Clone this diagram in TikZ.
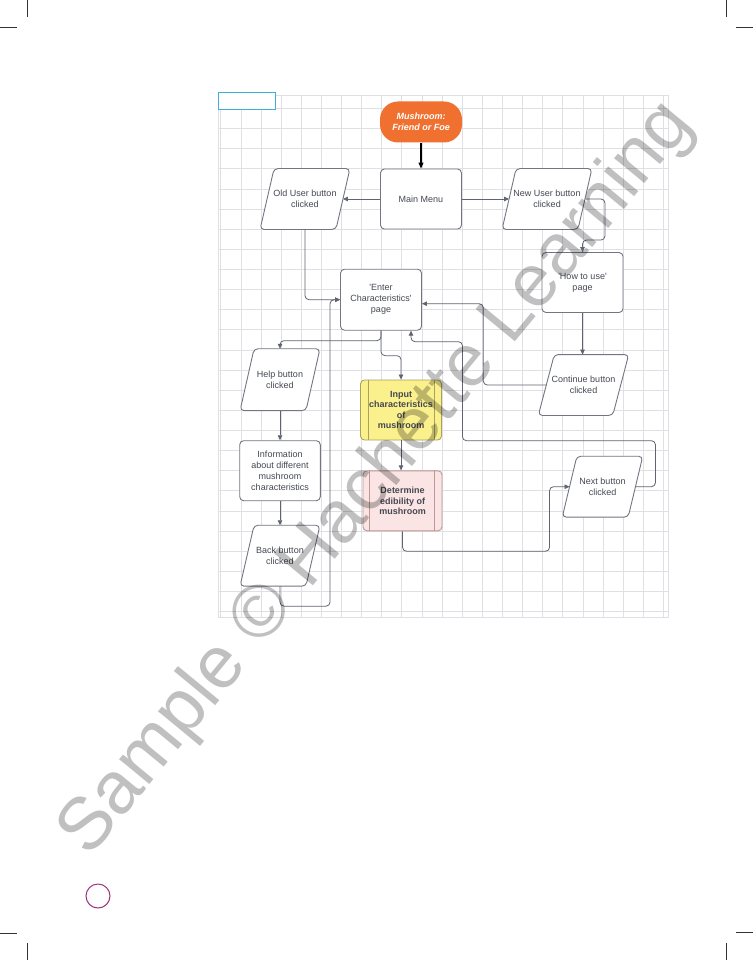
\documentclass[tikz,border=0pt]{standalone}
\usepackage{fontspec}
\setmainfont{Liberation Sans}
\usetikzlibrary{arrows.meta}

\definecolor{linegray}{RGB}{96,100,112}
\definecolor{boxgray}{RGB}{115,118,128}
\definecolor{textgray}{RGB}{68,72,82}
\definecolor{gridgray}{RGB}{224,224,228}
\definecolor{startorange}{RGB}{240,112,48}
\definecolor{inputyellow}{RGB}{250,240,140}
\definecolor{inputedge}{RGB}{170,160,95}
\definecolor{ediblepink}{RGB}{251,228,228}
\definecolor{edibleedge}{RGB}{190,150,150}
\definecolor{framecyan}{RGB}{60,176,216}
\definecolor{pagemagenta}{RGB}{160,50,125}
\definecolor{markgray}{RGB}{192,192,192}

\pgfdeclarelayer{bglayer}
\pgfsetlayers{bglayer,main}

\begin{document}
\begin{tikzpicture}[x=1pt, y=-1pt,
	box/.style={draw=boxgray, line width=0.9pt, rounded corners=4pt, fill=white,
		text=textgray, align=center, font=\fontsize{9}{11}\selectfont,
		minimum width=81pt, minimum height=60pt, inner sep=2pt},
	io/.style={box, draw=none, fill=none},
	iobox/.style={draw=boxgray, line width=0.9pt, rounded corners=4pt, fill=white},
	procbox/.style={box, font=\fontsize{9}{10.5}\selectfont\bfseries},
	flow/.style={draw=linegray, line width=0.8pt, rounded corners=4pt,
		-{Triangle[length=5pt,width=4.5pt]}}]
	\useasboundingbox (0,0) rectangle (753,960);

	% page and grid
	\begin{pgfonlayer}{bglayer}
		\fill[white] (0,0) rectangle (753,960);
		\draw[gridgray] (218,95) rectangle (668,617);
		\foreach \i in {0,...,22}
			\draw[gridgray] ({220.6+20.12*\i},95) -- ({220.6+20.12*\i},617);
		\foreach \j in {0,...,25}
			\draw[gridgray] (218,{108.3+20.12*\j}) -- (668,{108.3+20.12*\j});
	\end{pgfonlayer}
	\draw[framecyan, line width=1pt, fill=white] (218,93) rectangle (275,110);

	% crop marks
	\draw[line width=0.6pt, black!80] (27,0) -- (27,17);
	\draw[line width=0.6pt, black!80] (0,27) -- (17,27);
	\draw[line width=0.6pt, black!80] (726,0) -- (726,17);
	\draw[line width=0.6pt, black!80] (736,27) -- (753,27);
	\draw[line width=0.6pt, black!80] (0,933) -- (17,933);
	\draw[line width=0.6pt, black!80] (27,943) -- (27,960);
	\draw[line width=0.6pt, black!80] (736,932) -- (753,932);
	\draw[line width=0.6pt, black!80] (726,943) -- (726,960);
	\draw[pagemagenta, line width=1pt] (98,896) circle[radius=12pt];

	% nodes
	\node[box, draw=none, fill=startorange, text=white, rounded corners=18pt,
		minimum width=82pt, minimum height=41pt,
		font=\fontsize{9}{10.7}\selectfont\bfseries\itshape] (start) at (421,122) {Mushroom:\\Friend or Foe};
	\node[box] (mainmenu) at (421,199) {Main Menu};
	\node[io, minimum width=75pt] (olduser) at (305,199) {Old User button\\clicked};
	\node[io, minimum width=75pt] (newuser) at (547,199) {New User button\\clicked};
	\node[box] (howto) at (582.5,282.5) {\textquotesingle How to use\textquotesingle\\page};
	\node[box, minimum height=61pt] (enterchar) at (381,299.7) {\textquotesingle Enter\\Characteristics\textquotesingle\\page};
	\node[io, minimum width=73.5pt] (contbtn) at (583.5,385) {Continue button\\clicked};
	\node[io, minimum width=65pt, minimum height=61pt] (helpbtn) at (280,379.7) {Help button\\clicked};
	\node[box, minimum width=80.6pt] (info) at (280,470.7) {Information\\about different\\mushroom\\characteristics};
	\node[io, minimum width=65pt] (backbtn) at (280,555.7) {Back button\\clicked};
	\node[procbox, fill=inputyellow, draw=inputedge] (inputchar) at (401,410) {Input\\characteristics\\of\\mushroom};
	\node[procbox, fill=ediblepink, draw=edibleedge, minimum width=79pt] (edible) at (402.5,500.8) {Determine\\edibility of\\mushroom};
	\node[io, minimum width=65pt] (nextbtn) at (602.5,486.7) {Next button\\clicked};

	% parallelograms behind the io texts
	\begin{pgfonlayer}{bglayer}
		\foreach \n/\s in {olduser/7,newuser/7,contbtn/8,helpbtn/7,backbtn/7,nextbtn/7.3}
			\draw[iobox] ([xshift=\s pt]\n.north west) -- ([xshift=\s pt]\n.north east)
				-- ([xshift=-\s pt]\n.south east) -- ([xshift=-\s pt]\n.south west) -- cycle;
	\end{pgfonlayer}

	% side bars of the process boxes
	\draw[inputedge, line width=0.9pt] ([xshift=8pt]inputchar.north west) -- ([xshift=8pt]inputchar.south west);
	\draw[inputedge, line width=0.9pt] ([xshift=-8pt]inputchar.north east) -- ([xshift=-8pt]inputchar.south east);
	\draw[edibleedge, line width=0.9pt] ([xshift=7pt]edible.north west) -- ([xshift=7pt]edible.south west);
	\draw[edibleedge, line width=0.9pt] ([xshift=-8pt]edible.north east) -- ([xshift=-8pt]edible.south east);

	% connectors
	\draw[line width=1.1pt, -{Triangle[length=6pt,width=5pt]}] (start) -- (mainmenu);
	\draw[flow] (mainmenu) -- (olduser);
	\draw[flow] (mainmenu) -- (newuser);
	\draw[flow] (newuser.east) -- ++(20,0) |- ([yshift=12pt]howto.north) -- (howto.north);
	\draw[flow] (howto.south) -- (howto.south |- contbtn.north);
	\draw[flow] (contbtn.west) -- ++(-63,0) |- ([yshift=-4pt]enterchar.east);
	\draw[flow] (olduser.south) |- (enterchar.west);
	\draw[flow] (backbtn.south) -- ++(0,20) -| ([xshift=-10pt]enterchar.west) -- (enterchar.west);
	\draw[flow] (enterchar.south) -- ++(0,10) -| (helpbtn.north);
	\draw[flow] (enterchar.south) -- ++(0,25) -| (inputchar.north);
	\draw[flow] (helpbtn) -- (info);
	\draw[flow] (info) -- (backbtn);
	\draw[flow] (inputchar.south) -- (inputchar.south |- edible.north);
	\draw[flow] (edible.south) -- ++(0,20) -| ([xshift=-20pt]nextbtn.west) -- (nextbtn.west);
	\draw[flow] (nextbtn.east) -- ++(20,0) -- ++(0,-46) -| ++(-193,-99) -| ([xshift=30pt]enterchar.south);

	% watermark
	\node[rotate=50.5, scale=7.4, transform shape, font=\fontsize{10}{10}\selectfont,
		text=markgray, blend mode=multiply] (watermark) at (377,479) {Sample © Hachette Learning};
\end{tikzpicture}
\end{document}
